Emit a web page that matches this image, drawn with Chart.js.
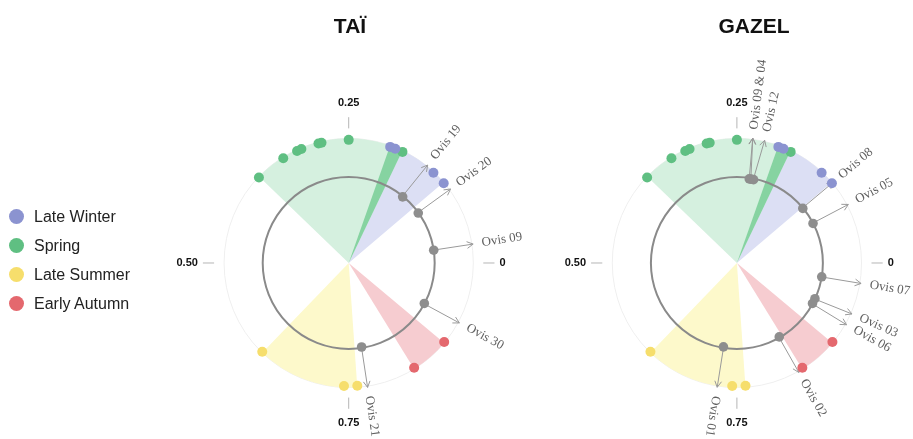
<!DOCTYPE html>
<html>
<head>
<meta charset="utf-8">
<script src="https://cdn.jsdelivr.net/npm/chart.js@4.4.1/dist/chart.umd.min.js"></script>
<style>
  html, body { margin: 0; padding: 0; background: #fff; }
  #wrap { position: relative; width: 913px; height: 439px; overflow: hidden; }
  #polar { position: absolute; left: 0; top: 0; }
  .title { position: absolute; top: 14px; line-height: 21px; font: bold 21px "Liberation Sans", Arial, sans-serif; color: #111; transform: translateX(-50%); white-space: nowrap; }
  .legend { position: absolute; left: 9px; top: 202px; font: 16px "Liberation Sans", Arial, sans-serif; color: #222; }
  .legend .row { display: flex; align-items: center; height: 29px; }
  .legend .dot { width: 15px; height: 15px; border-radius: 50%; margin-right: 10px; }
</style>
</head>
<body>
<div id="wrap">
  <canvas id="polar" width="913" height="439"></canvas>
  <div class="title" style="left:350px">TAÏ</div>
  <div class="title" style="left:754px">GAZEL</div>
  <div class="legend" id="legend"></div>
</div>
<script>
/* =========================================================
   DATA (fraction of the year, 0 = east, counter-clockwise)
========================================================= */
const seasons = ['Late Winter', 'Spring', 'Late Summer', 'Early Autumn'];
const lateWinter = [0.196, 0.189, 0.131, 0.112];
const spring = [0.378, 0.338, 0.318, 0.312, 0.289, 0.285, 0.25, 0.179];
const lateSummer = [0.628, 0.744, 0.761];
const earlyAutumn = [0.838, 0.889];

const taiNames = ['Ovis 19', 'Ovis 20', 'Ovis 09', 'Ovis 30', 'Ovis 21'];
const taiBirth = [0.142, 0.100, 0.024, 0.921, 0.774];

const gazelNames = ['Ovis 09 & 04', 'Ovis 09 & 04', 'Ovis 12', 'Ovis 08', 'Ovis 05', 'Ovis 07', 'Ovis 03', 'Ovis 06', 'Ovis 02', 'Ovis 01'];
const gazelBirth = [0.227, 0.224, 0.219, 0.111, 0.077, 0.974, 0.931, 0.921, 0.832, 0.725];

const tickValues = [0, 0.25, 0.5, 0.75];
const tickLabels = ['0', '0.25', '0.50', '0.75'];

/* =========================================================
   STYLE / GEOMETRY
========================================================= */
const seasonDot = ['#8b93d0', '#5fbf82', '#f6de6c', '#e4686e'];
const seasonFill = ['#dcdff4', '#d5f0df', '#fdf9cb', '#f6ccd0'];
const overlapFill = '#86d3a1';
const greyDot = '#8e8e8e';

const U = 126;                  // px per unit radius
const PX0 = 347.5, PY0 = 264;   // centre of the first dial
const W = 913, H = 439;
const R_GREY = 0.69, R_TIP = 1.01, R_TEXT = 1.08;

const seasonData = [lateWinter, spring, lateSummer, earlyAutumn];
const plots = [
    { cx: 0, names: taiNames, birth: taiBirth },
    { cx: 392.5 / U, names: gazelNames, birth: gazelBirth }
];

const polar = (cx, f, r) => ({
    x: cx + r * Math.cos(2 * Math.PI * f),
    y: r * Math.sin(2 * Math.PI * f)
});

// one label per name, at the mean angle of its points, pushed apart if too close
function labelAngles(names, birth) {
    const groups = [];
    names.forEach((n, i) => {
        let g = groups.find(g => g.name === n);
        if (!g) { g = { name: n, idx: [] }; groups.push(g); }
        g.idx.push(i);
    });
    groups.forEach(g => g.a = g.idx.reduce((s, i) => s + birth[i], 0) / g.idx.length);
    const sorted = groups.slice().sort((a, b) => a.a - b.a);
    const sep = 5.5 / 360;
    for (let k = 1; k < sorted.length; k++) {
        const gap = sorted[k].a - sorted[k - 1].a;
        if (gap < sep) {
            const s = (sep - gap) / 2;
            sorted[k - 1].a -= s;
            sorted[k].a += s;
        }
    }
    return groups;
}

/* =========================================================
   DATASETS
========================================================= */
const datasets = [];
plots.forEach(p => {
    seasonData.forEach((arr, s) => {
        datasets.push({
            label: seasons[s],
            data: arr.map(f => polar(p.cx, f, 1)),
            backgroundColor: seasonDot[s],
            borderWidth: 0,
            pointRadius: 5
        });
    });
    datasets.push({
        label: 'birth',
        data: p.birth.map(f => polar(p.cx, f, R_GREY)),
        backgroundColor: greyDot,
        borderWidth: 0,
        pointRadius: 4.8
    });
});

/* =========================================================
   DIAL DRAWING PLUGIN
========================================================= */
function wedge(ctx, cx, cy, r, f0, f1, colour) {
    ctx.beginPath();
    ctx.moveTo(cx, cy);
    ctx.arc(cx, cy, r, -2 * Math.PI * f1, -2 * Math.PI * f0);
    ctx.closePath();
    ctx.fillStyle = colour;
    ctx.fill();
}

const dialPlugin = {
    id: 'dial',
    beforeDatasetsDraw(chart) {
        const { ctx, scales: { x, y } } = chart;
        plots.forEach(p => {
            const cx = x.getPixelForValue(p.cx), cy = y.getPixelForValue(0);
            const rp = v => x.getPixelForValue(p.cx + v) - cx;
            ctx.save();

            // faint outer ring
            ctx.beginPath();
            ctx.arc(cx, cy, rp(1), 0, 2 * Math.PI);
            ctx.strokeStyle = '#efefef';
            ctx.lineWidth = 1;
            ctx.stroke();

            // season sectors
            seasonData.forEach((arr, s) => {
                wedge(ctx, cx, cy, rp(1), Math.min(...arr), Math.max(...arr), seasonFill[s]);
            });
            const o0 = Math.max(Math.min(...spring), Math.min(...lateWinter));
            const o1 = Math.min(Math.max(...spring), Math.max(...lateWinter));
            if (o1 > o0) wedge(ctx, cx, cy, rp(1), o0, o1, overlapFill);

            // grey circle
            ctx.beginPath();
            ctx.arc(cx, cy, rp(R_GREY), 0, 2 * Math.PI);
            ctx.strokeStyle = '#8a8a8a';
            ctx.lineWidth = 2;
            ctx.stroke();

            // ticks
            tickValues.forEach((f, i) => {
                const a = 2 * Math.PI * f, c = Math.cos(a), s = Math.sin(a);
                ctx.beginPath();
                ctx.moveTo(cx + c * rp(1.08), cy - s * rp(1.08));
                ctx.lineTo(cx + c * rp(1.17), cy - s * rp(1.17));
                ctx.strokeStyle = '#b5b5b5';
                ctx.lineWidth = 1;
                ctx.stroke();
                ctx.font = 'bold 11px "Liberation Sans", Arial, sans-serif';
                ctx.fillStyle = '#111';
                if (Math.abs(c) > 0.5) {
                    ctx.textAlign = c > 0 ? 'left' : 'right';
                    ctx.textBaseline = 'middle';
                    ctx.fillText(tickLabels[i], cx + c * rp(1.21), cy - s * rp(1.21));
                } else {
                    ctx.textAlign = 'center';
                    ctx.textBaseline = s > 0 ? 'bottom' : 'top';
                    ctx.fillText(tickLabels[i], cx, cy - s * rp(1.24));
                }
            });

            // arrows + labels
            const groups = labelAngles(p.names, p.birth);
            p.birth.forEach((f, i) => {
                const g = groups.find(g => g.name === p.names[i]);
                const a0 = 2 * Math.PI * f, a1 = 2 * Math.PI * g.a;
                const x0 = cx + Math.cos(a0) * rp(R_GREY), y0 = cy - Math.sin(a0) * rp(R_GREY);
                const x1 = cx + Math.cos(a1) * rp(R_TIP), y1 = cy - Math.sin(a1) * rp(R_TIP);
                ctx.beginPath();
                ctx.moveTo(x0, y0);
                ctx.lineTo(x1, y1);
                const dir = Math.atan2(y1 - y0, x1 - x0);
                [-0.5, 0.5].forEach(d => {
                    ctx.moveTo(x1, y1);
                    ctx.lineTo(x1 - 7 * Math.cos(dir + d), y1 - 7 * Math.sin(dir + d));
                });
                ctx.strokeStyle = '#9a9a9a';
                ctx.lineWidth = 1;
                ctx.stroke();
            });
            groups.forEach(g => {
                const a = 2 * Math.PI * g.a;
                ctx.save();
                ctx.translate(cx + Math.cos(a) * rp(R_TEXT), cy - Math.sin(a) * rp(R_TEXT));
                ctx.rotate(-a);
                ctx.font = '13px "Liberation Serif", "Times New Roman", serif';
                ctx.fillStyle = '#606060';
                ctx.textAlign = 'left';
                ctx.textBaseline = 'middle';
                ctx.fillText(g.name, 0, 0);
                ctx.restore();
            });
            ctx.restore();
        });
    }
};

/* =========================================================
   CHART
========================================================= */
new Chart(document.getElementById('polar'), {
    type: 'scatter',
    data: { datasets },
    options: {
        responsive: false,
        animation: false,
        layout: { padding: 0 },
        plugins: { legend: { display: false }, tooltip: { enabled: false } },
        scales: {
            x: { type: 'linear', display: false, min: -PX0 / U, max: (W - PX0) / U },
            y: { type: 'linear', display: false, min: -(H - PY0) / U, max: PY0 / U }
        }
    },
    plugins: [dialPlugin]
});

/* =========================================================
   LEGEND
========================================================= */
const legend = document.getElementById('legend');
seasons.forEach((s, i) => {
    const row = document.createElement('div');
    row.className = 'row';
    row.innerHTML = '<span class="dot" style="background:' + seasonDot[i] + '"></span><span>' + s + '</span>';
    legend.appendChild(row);
});
</script>
</body>
</html>
